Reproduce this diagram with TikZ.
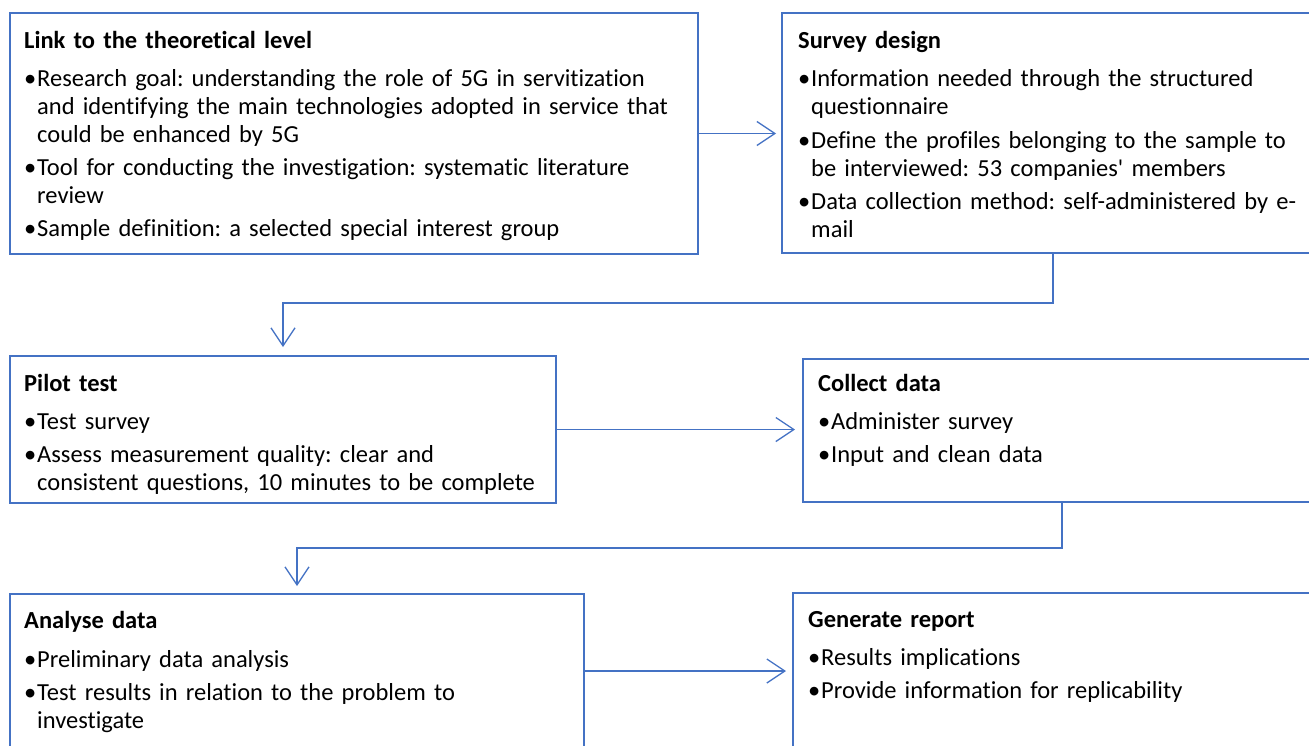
\documentclass[tikz,border=0pt]{standalone}
\usepackage{fontspec}
\setmainfont{Carlito}[Ligatures={TeX,NoCommon}]
\usetikzlibrary{arrows.meta,calc}
\definecolor{bblue}{HTML}{4472C4}
\newcommand\itm{\makebox[13pt][l]{•}}
\newcommand\cnt{\hspace*{13pt}}
\frenchspacing
\tikzset{
  box/.style={draw=bblue, line width=2.6pt, anchor=north west, inner sep=0pt, outer sep=0pt},
  txt/.style={anchor=base west, inner sep=0pt, text width=1200pt, align=left, font=\fontsize{24.5}{28}\selectfont},
  arr/.style={draw=bblue, line width=1.3pt, -{Straight Barb[length=18pt,width=24pt,line width=1.3pt]}},
}
\begin{document}
\begin{tikzpicture}[x=1pt,y=-1pt]
\useasboundingbox (0,0) rectangle (1309,745);
\clip (0,0) rectangle (1309,745);
% boxes
\node[box, minimum width=688pt, minimum height=241pt] (b1) at (10,13) {};
\node[box, minimum width=542pt, minimum height=240pt] (b2) at (782,13) {};
\node[box, minimum width=546pt, minimum height=147pt] (b3) at (10,356) {};
\node[box, minimum width=518pt, minimum height=143pt] (b4) at (803,359) {};
\node[box, minimum width=574pt, minimum height=154pt] (b5) at (10,594) {};
\node[box, minimum width=527pt, minimum height=156pt] (b6) at (793,593) {};
% texts
\node[txt] (t1) at (24,48) {\textbf{Link to the theoretical level}\\[10pt]
\itm Research goal: understanding the role of 5G in servitization\\
\cnt and identifying the main technologies adopted in service that\\
\cnt could be enhanced by 5G\\[5pt]
\itm Tool for conducting the investigation: systematic literature\\
\cnt review\\[5pt]
\itm Sample definition: a selected special interest group};
\node[txt] (t2) at (798,48) {\textbf{Survey design}\\[10pt]
\itm Information needed through the structured\\
\cnt questionnaire\\[6pt]
\itm Define the profiles belonging to the sample to\\
\cnt be interviewed: 53 companies\textquotesingle\ members\\[5pt]
\itm Data collection method: self-administered by e-\\
\cnt mail};
\node[txt] (t3) at (24,391) {\textbf{Pilot test}\\[10pt]
\itm Test survey\\[5pt]
\itm Assess measurement quality: clear and\\
\cnt consistent questions, 10 minutes to be complete};
\node[txt] (t4) at (818,391) {\textbf{Collect data}\\[10pt]
\itm Administer survey\\[5pt]
\itm Input and clean data};
\node[txt] (t5) at (24,628) {\textbf{Analyse data}\\[11pt]
\itm Preliminary data analysis\\[5pt]
\itm Test results in relation to the problem to\\
\cnt investigate};
\node[txt] (t6) at (808,627) {\textbf{Generate report}\\[10pt]
\itm Results implications\\[5pt]
\itm Provide information for replicability};
% connectors
\draw[arr, shorten >=6pt] (b1.east) -- (b1.east -| b2.west);
\draw[arr, shorten >=9pt] (b2.south) -- ++(0,50) -| (b3.north);
\draw[arr, shorten >=8pt] (b3.east) -- (b3.east -| b4.west);
\draw[arr, shorten >=8pt] (b4.south) -- ++(0,46) -| (b5.north);
\draw[arr, shorten >=7pt] (b5.east) -- (b5.east -| b6.west);
\end{tikzpicture}
\end{document}
